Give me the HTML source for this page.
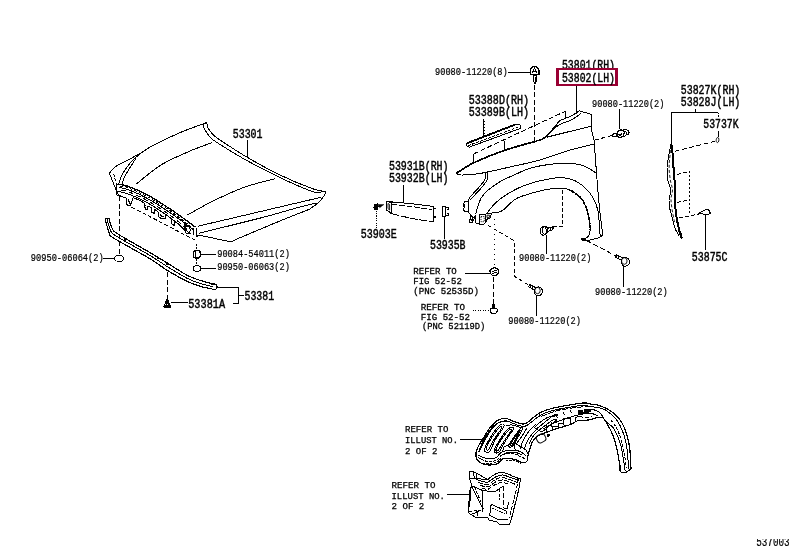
<!DOCTYPE html>
<html><head><meta charset="utf-8"><title>537003</title>
<style>
html,body{margin:0;padding:0;background:#fff;}
body{width:796px;height:549px;overflow:hidden;}
svg{display:block;will-change:transform;}
text{font-family:"Liberation Mono","DejaVu Sans Mono",monospace;fill:#000;stroke:#000;stroke-width:0.45px;}
text.s{stroke-width:0.22px;}
text.r{stroke-width:0.3px;}
text.b{stroke-width:0.25px;}
path,line,ellipse,rect{stroke-linecap:butt;stroke-linejoin:round;shape-rendering:crispEdges;}
</style></head><body>
<svg width="796" height="549" viewBox="0 0 796 549">
<rect width="796" height="549" fill="#fff"/>
<text class="a" x="561.969" y="69.4" font-size="12.3611" textLength="53.0612" lengthAdjust="spacingAndGlyphs">53801(RH)</text>
<rect x="556" y="68" width="62" height="18" fill="#990033"/>
<rect x="559" y="70" width="56" height="14" fill="#fff"/>
<text class="a" x="561.969" y="82.3" font-size="12.3611" textLength="53.0612" lengthAdjust="spacingAndGlyphs">53802(LH)</text>
<text class="a" x="232.764" y="138.3" font-size="12.3611" textLength="29.7718" lengthAdjust="spacingAndGlyphs">53301</text>
<text class="s" x="30.8318" y="261.2" font-size="10.8333" textLength="72.8365" lengthAdjust="spacingAndGlyphs">90950-06064(2)</text>
<text class="s" x="217.233" y="256.6" font-size="10.8333" textLength="72.6339" lengthAdjust="spacingAndGlyphs">90084-54011(2)</text>
<text class="s" x="217.233" y="270.2" font-size="10.8333" textLength="72.6339" lengthAdjust="spacingAndGlyphs">90950-06063(2)</text>
<text class="a" x="188.248" y="308" font-size="12.3611" textLength="36.8041" lengthAdjust="spacingAndGlyphs">53381A</text>
<text class="a" x="244.466" y="299.8" font-size="12.3611" textLength="29.668" lengthAdjust="spacingAndGlyphs">53381</text>
<text class="s" x="435.032" y="75.2" font-size="10.8333" textLength="72.7352" lengthAdjust="spacingAndGlyphs">90080-11220(8)</text>
<text class="a" x="468.757" y="104" font-size="12.3611" textLength="60.2851" lengthAdjust="spacingAndGlyphs">53388D(RH)</text>
<text class="a" x="468.757" y="116.3" font-size="12.3611" textLength="60.2851" lengthAdjust="spacingAndGlyphs">53389B(LH)</text>
<text class="a" x="388.964" y="170.3" font-size="12.3611" textLength="59.5723" lengthAdjust="spacingAndGlyphs">53931B(RH)</text>
<text class="a" x="388.964" y="181.6" font-size="12.3611" textLength="59.5723" lengthAdjust="spacingAndGlyphs">53932B(LH)</text>
<text class="a" x="360.759" y="238.3" font-size="12.3611" textLength="36.0825" lengthAdjust="spacingAndGlyphs">53903E</text>
<text class="a" x="429.966" y="249" font-size="12.3611" textLength="35.567" lengthAdjust="spacingAndGlyphs">53935B</text>
<text class="s" x="592.034" y="106.6" font-size="10.8333" textLength="72.4313" lengthAdjust="spacingAndGlyphs">90080-11220(2)</text>
<text class="a" x="680.764" y="93.7" font-size="12.3611" textLength="59.5723" lengthAdjust="spacingAndGlyphs">53827K(RH)</text>
<text class="a" x="680.764" y="105.7" font-size="12.3611" textLength="59.5723" lengthAdjust="spacingAndGlyphs">53828J(LH)</text>
<text class="a" x="703.271" y="128.3" font-size="12.3611" textLength="35.2577" lengthAdjust="spacingAndGlyphs">53737K</text>
<text class="a" x="691.763" y="260.6" font-size="12.3611" textLength="35.7732" lengthAdjust="spacingAndGlyphs">53875C</text>
<text class="s" x="519.034" y="261" font-size="10.8333" textLength="72.4313" lengthAdjust="spacingAndGlyphs">90080-11220(2)</text>
<text class="s" x="508.333" y="324" font-size="10.8333" textLength="72.6339" lengthAdjust="spacingAndGlyphs">90080-11220(2)</text>
<text class="s" x="595.032" y="294.8" font-size="10.8333" textLength="72.7352" lengthAdjust="spacingAndGlyphs">90080-11220(2)</text>
<text class="r" x="413.311" y="274" font-size="9.72222" textLength="43.4783" lengthAdjust="spacingAndGlyphs">REFER TO</text>
<text class="r" x="413.315" y="284" font-size="9.72222" textLength="48.4694" lengthAdjust="spacingAndGlyphs">FIG 52-52</text>
<text class="r" x="413.307" y="293.7" font-size="9.72222" textLength="65.6853" lengthAdjust="spacingAndGlyphs">(PNC 52535D)</text>
<text class="r" x="420.803" y="310.4" font-size="9.72222" textLength="44.1944" lengthAdjust="spacingAndGlyphs">REFER TO</text>
<text class="r" x="420.808" y="319.7" font-size="9.72222" textLength="49.1837" lengthAdjust="spacingAndGlyphs">FIG 52-52</text>
<text class="r" x="422.026" y="329.2" font-size="9.72222" textLength="63.2487" lengthAdjust="spacingAndGlyphs">(PNC 52119D)</text>
<text class="b" x="405.011" y="432.2" font-size="8.61111" textLength="43.4783" lengthAdjust="spacingAndGlyphs">REFER TO</text>
<text class="b" x="405.023" y="442.8" font-size="8.61111" textLength="52.9532" lengthAdjust="spacingAndGlyphs">ILLUST NO.</text>
<text class="b" x="405.013" y="453.5" font-size="8.61111" textLength="32.4742" lengthAdjust="spacingAndGlyphs">2 OF 2</text>
<text class="b" x="391.505" y="487.8" font-size="8.61111" textLength="43.9898" lengthAdjust="spacingAndGlyphs">REFER TO</text>
<text class="b" x="391.519" y="498.5" font-size="8.61111" textLength="53.4623" lengthAdjust="spacingAndGlyphs">ILLUST NO.</text>
<text class="b" x="391.508" y="509" font-size="8.61111" textLength="32.7835" lengthAdjust="spacingAndGlyphs">2 OF 2</text>
<text class="s" x="756.199" y="545.7" font-size="11.9444" textLength="33.4021" lengthAdjust="spacingAndGlyphs">537003</text>
<rect x="750" y="530" width="46" height="8.8" fill="#fff"/>
<path d="M206.7 122.5 C201.98 124.30 187.52 129.38 178.40 133.30 C169.28 137.22 158.15 142.78 152.00 146.00 C145.85 149.22 145.50 150.27 141.50 152.60 C137.50 154.93 132.42 157.60 128.00 160.00 C123.58 162.40 118.10 164.78 115.00 167.00 C111.90 169.22 110.33 172.25 109.40 173.30" fill="none" stroke="#000" stroke-width="1"/>
<path d="M109.4 173.3 L116.3 190.3 L118.8 195.3" fill="none" stroke="#000" stroke-width="1"/>
<path d="M141.5 152.6 C140.08 153.83 135.32 157.70 133.00 160.00 C130.68 162.30 129.43 163.90 127.60 166.40 C125.77 168.90 123.47 172.07 122.00 175.00 C120.53 177.93 119.33 182.50 118.80 184.00" fill="none" stroke="#000" stroke-width="1"/>
<path d="M136.4 157.6 C135.33 159.27 131.90 164.53 130.00 167.60 C128.10 170.67 126.33 173.27 125.00 176.00 C123.67 178.73 122.50 182.67 122.00 184.00" fill="none" stroke="#000" stroke-width="1"/>
<path d="M113.8 174 L117 186.5" fill="none" stroke="#000" stroke-width="1" stroke-dasharray="3 1.5"/>
<path d="M206.7 122.5 C206.92 123.42 206.95 126.00 208.00 128.00 C209.05 130.00 211.00 132.50 213.00 134.50 C215.00 136.50 214.25 136.17 220.00 140.00 C225.75 143.83 237.50 151.67 247.50 157.50 C257.50 163.33 269.17 169.80 280.00 175.00 C290.83 180.20 304.78 185.90 312.50 188.70 C320.22 191.50 324.00 191.28 326.30 191.80" fill="none" stroke="#000" stroke-width="1"/>
<path d="M203 124.5 C203.33 125.42 203.83 127.92 205.00 130.00 C206.17 132.08 208.00 134.92 210.00 137.00 C212.00 139.08 211.17 138.75 217.00 142.50 C222.83 146.25 234.50 153.65 245.00 159.50 C255.50 165.35 269.17 172.40 280.00 177.60 C290.83 182.80 303.17 188.13 310.00 190.70 C316.83 193.27 319.17 192.62 321.00 193.00" fill="none" stroke="#000" stroke-width="1"/>
<path d="M203 124.5 L206.7 122.5" fill="none" stroke="#000" stroke-width="1"/>
<path d="M326.3 191.8 C325.87 192.55 325.08 194.43 323.70 196.30 C322.32 198.17 320.28 200.92 318.00 203.00 C315.72 205.08 311.33 207.83 310.00 208.80" fill="none" stroke="#000" stroke-width="1"/>
<path d="M212.5 142.5 C208.75 143.92 198.32 147.42 190.00 151.00 C181.68 154.58 169.60 160.08 162.60 164.00 C155.60 167.92 152.37 171.17 148.00 174.50 C143.63 177.83 138.33 182.42 136.40 184.00" fill="none" stroke="#000" stroke-width="1"/>
<path d="M275 178.8 C270.00 180.17 255.42 183.25 245.00 187.00 C234.58 190.75 222.08 196.63 212.50 201.30 C202.92 205.97 191.67 212.72 187.50 215.00" fill="none" stroke="#000" stroke-width="1"/>
<path d="M197.5 226.3 L321 197.3" fill="none" stroke="#000" stroke-width="1"/>
<path d="M198.8 233.3 C209.42 230.67 245.63 221.88 262.50 217.50 C279.37 213.12 290.92 209.42 300.00 207.00 C309.08 204.58 314.17 203.67 317.00 203.00" fill="none" stroke="#000" stroke-width="1"/>
<path d="M198.8 235 C201.50 235.58 209.80 237.45 215.00 238.50 C220.20 239.55 226.25 241.25 230.00 241.30 C233.75 241.35 230.00 241.85 237.50 238.80 C245.00 235.75 262.92 227.97 275.00 223.00 C287.08 218.03 304.17 211.33 310.00 209.00" fill="none" stroke="#000" stroke-width="1"/>
<path d="M118.2 184.4 C119.67 184.67 122.08 184.22 127.00 186.00 C131.92 187.78 140.07 190.97 147.70 195.10 C155.33 199.23 164.85 205.47 172.80 210.80 C180.75 216.13 191.63 224.38 195.40 227.10" fill="none" stroke="#000" stroke-width="1.3"/>
<path d="M118.8 187.6 C120.33 187.92 123.22 187.68 128.00 189.50 C132.78 191.32 140.17 194.42 147.50 198.50 C154.83 202.58 164.22 208.70 172.00 214.00 C179.78 219.30 190.50 227.58 194.20 230.30" fill="none" stroke="#000" stroke-width="1"/>
<path d="M117.5 191.3 C119.08 191.67 122.25 191.72 127.00 193.50 C131.75 195.28 138.83 198.00 146.00 202.00 C153.17 206.00 162.60 212.17 170.00 217.50 C177.40 222.83 187.00 231.25 190.40 234.00" fill="none" stroke="#000" stroke-width="1"/>
<path d="M116.9 185 L116.9 195 L118.2 195.1 L126.3 198.2" fill="none" stroke="#000" stroke-width="1"/>
<path d="M120 186.2 C121.33 186.47 123.40 186.03 128.00 187.80 C132.60 189.57 140.20 192.70 147.60 196.80 C155.00 200.90 164.83 207.12 172.40 212.40 C179.97 217.68 189.57 225.82 193.00 228.50" fill="none" stroke="#000" stroke-width="1" stroke-dasharray="3 2"/>
<path d="M121 190 C122.17 190.27 123.70 189.88 128.00 191.60 C132.30 193.32 139.63 196.27 146.80 200.30 C153.97 204.33 163.80 210.52 171.00 215.80 C178.20 221.08 186.83 229.30 190.00 232.00" fill="none" stroke="#000" stroke-width="1" stroke-dasharray="5 3"/>
<path d="M118.2 184.4 L116.9 185" fill="none" stroke="#000" stroke-width="1"/>
<path d="M126.3 198.2 L126.3 203.9 L128 205.4 L130.6 205 L133.2 197.6" fill="none" stroke="#000" stroke-width="1"/>
<path d="M128.5 199.5 L129.5 203.5 L131.5 203" fill="none" stroke="#000" stroke-width="1"/>
<path d="M133.2 197.6 L140 200.5 L144 203 L145.5 206.5" fill="none" stroke="#000" stroke-width="1"/>
<path d="M144 205.2 L146 209.8 L148 209.5 L147.5 205.8" fill="none" stroke="#000" stroke-width="1"/>
<path d="M147.5 205.8 L151.5 208 L151.5 212 L154.5 213.5 L155 209.5" fill="none" stroke="#000" stroke-width="1"/>
<path d="M155 209.5 L158.7 212.5" fill="none" stroke="#000" stroke-width="1"/>
<path d="M158.7 212.5 L159 216.8 L161 218.4 L165 218.8 L166 214.5" fill="none" stroke="#000" stroke-width="1"/>
<path d="M160.5 214 L161.5 217 L164 216.8" fill="none" stroke="#000" stroke-width="1"/>
<path d="M166 214.5 L171.5 219 L171.8 224 L174.5 225.7 L175 221.5" fill="none" stroke="#000" stroke-width="1"/>
<path d="M175 221.5 L181 226.5 L185 231 L186.5 234.5" fill="none" stroke="#000" stroke-width="1"/>
<ellipse cx="187.5" cy="229.8" rx="2.6" ry="3.6" fill="none" stroke="#000" stroke-width="1"/>
<ellipse cx="185.3" cy="224.3" rx="1.3" ry="1.3" fill="#000" stroke="#000" stroke-width="1"/>
<ellipse cx="185.5" cy="229.5" rx="1.2" ry="1.6" fill="#000" stroke="#000" stroke-width="1"/>
<path d="M193.3 228 L193 233 L194.5 235.5" fill="none" stroke="#000" stroke-width="1"/>
<path d="M196.7 227.8 L196.7 236.6 L198.8 235" fill="none" stroke="#000" stroke-width="1"/>
<path d="M131.4 207 L196.7 241" fill="none" stroke="#000" stroke-width="1" stroke-dasharray="4 2.2"/>
<line x1="119.5" y1="196" x2="119.5" y2="253.5" stroke="#000" stroke-width="1" stroke-dasharray="5 2.5"/>
<ellipse cx="119.2" cy="258.4" rx="4.5" ry="3.2" fill="none" stroke="#000" stroke-width="1"/>
<line x1="102.9" y1="258.4" x2="114.7" y2="258.4" stroke="#000" stroke-width="1"/>
<line x1="196.8" y1="243.5" x2="196.8" y2="250" stroke="#000" stroke-width="1" stroke-dasharray="2 1.5"/>
<rect x="193.5" y="250.6" width="6.6" height="7.4" rx="2" fill="#fff" stroke="#000" stroke-width="1.2"/>
<line x1="195.3" y1="251" x2="195.3" y2="257.5" stroke="#000" stroke-width="1"/>
<line x1="200.5" y1="254.3" x2="216.3" y2="254.3" stroke="#000" stroke-width="1"/>
<line x1="196.8" y1="258.5" x2="196.8" y2="264.5" stroke="#000" stroke-width="1" stroke-dasharray="2 1.5"/>
<ellipse cx="197.1" cy="268.5" rx="3.9" ry="2.9" fill="none" stroke="#000" stroke-width="1"/>
<line x1="201.5" y1="268" x2="216.3" y2="268" stroke="#000" stroke-width="1"/>
<path d="M105 218.8 C105.33 220.00 106.25 223.50 107.00 226.00 C107.75 228.50 108.37 231.77 109.50 233.80 C110.63 235.83 107.05 234.03 113.80 238.20 C120.55 242.37 141.03 253.40 150.00 258.80 C158.97 264.20 161.32 266.80 167.60 270.60 C173.88 274.40 182.25 278.98 187.70 281.60 C193.15 284.22 196.32 285.07 200.30 286.30 C204.28 287.53 209.72 288.55 211.60 289.00" fill="none" stroke="#000" stroke-width="1.2"/>
<path d="M108.8 218 C109.08 219.00 109.88 222.17 110.50 224.00 C111.12 225.83 111.33 227.37 112.50 229.00 C113.67 230.63 111.25 229.87 117.50 233.80 C123.75 237.73 141.65 247.70 150.00 252.60 C158.35 257.50 161.32 259.37 167.60 263.20 C173.88 267.03 181.83 272.60 187.70 275.60 C193.57 278.60 198.08 279.70 202.80 281.20 C207.52 282.70 213.80 284.03 216.00 284.60" fill="none" stroke="#000" stroke-width="1.2"/>
<path d="M106.8 218.5 C107.17 219.75 108.30 223.83 109.00 226.00 C109.70 228.17 109.83 229.83 111.00 231.50 C112.17 233.17 109.50 232.00 116.00 236.00 C122.50 240.00 141.40 250.37 150.00 255.50 C158.60 260.63 161.32 262.95 167.60 266.80 C173.88 270.65 182.05 275.77 187.70 278.60 C193.35 281.43 197.28 282.43 201.50 283.80 C205.72 285.17 211.08 286.30 213.00 286.80" fill="none" stroke="#000" stroke-width="1"/>
<path d="M105 218.8 L108.8 218" fill="none" stroke="#000" stroke-width="1"/>
<path d="M216 284.6 L217.3 287 L216 289 L211.6 289" fill="none" stroke="#000" stroke-width="1"/>
<path d="M211.5 285 L215 283.8" fill="none" stroke="#000" stroke-width="1"/>
<ellipse cx="125" cy="239.5" rx="0.9" ry="0.9" fill="#000" stroke="#000" stroke-width="1"/>
<ellipse cx="158" cy="258" rx="0.9" ry="0.9" fill="#000" stroke="#000" stroke-width="1"/>
<ellipse cx="167.4" cy="263.8" rx="1" ry="1" fill="#000" stroke="#000" stroke-width="1"/>
<line x1="167.2" y1="272" x2="167.2" y2="297.8" stroke="#000" stroke-width="1" stroke-dasharray="5 2.5"/>
<path d="M167.2 298.4 L163.8 307 L170.7 307 Z" fill="#fff" stroke="#000" stroke-width="1.1"/>
<path d="M167.2 298.4 L166 307" fill="none" stroke="#000" stroke-width="1"/>
<path d="M167.2 298.4 L168.6 307" fill="none" stroke="#000" stroke-width="1"/>
<line x1="164.5" y1="303.5" x2="170" y2="303.5" stroke="#000" stroke-width="1"/>
<line x1="165.3" y1="301" x2="169" y2="301" stroke="#000" stroke-width="1"/>
<line x1="164" y1="305.5" x2="170.5" y2="305.5" stroke="#000" stroke-width="1"/>
<line x1="171" y1="302.8" x2="187.7" y2="302.8" stroke="#000" stroke-width="1"/>
<path d="M217.3 287.5 L238.8 287.5 L238.8 303 L232.5 303" fill="none" stroke="#000" stroke-width="1"/>
<line x1="238.8" y1="295.5" x2="243.8" y2="295.5" stroke="#000" stroke-width="1"/>
<line x1="247.5" y1="140" x2="247.5" y2="157.5" stroke="#000" stroke-width="1"/>
<path d="M456 173.5 C458.97 171.72 465.63 166.68 473.80 162.80 C481.97 158.92 494.73 153.77 505.00 150.20 C515.27 146.63 530.33 142.87 535.40 141.40" fill="none" stroke="#000" stroke-width="1.7"/>
<path d="M535.4 141.4 C536.33 141.10 539.33 140.33 541.00 139.60 C542.67 138.87 543.98 138.07 545.40 137.00 C546.82 135.93 548.23 134.55 549.50 133.20 C550.77 131.85 551.83 130.35 553.00 128.90 C554.17 127.45 555.92 125.23 556.50 124.50" fill="none" stroke="#000" stroke-width="1.4"/>
<path d="M556.5 124.5 C557.08 123.87 558.58 121.68 560.00 120.70 C561.42 119.72 563.00 119.47 565.00 118.60 C567.00 117.73 569.63 116.78 572.00 115.50 C574.37 114.22 578.00 111.67 579.20 110.90" fill="none" stroke="#000" stroke-width="1"/>
<path d="M579.2 110.9 L591.4 114.3" fill="none" stroke="#000" stroke-width="1"/>
<path d="M543.5 139 C544.42 138.08 546.92 135.50 549.00 133.50 C551.08 131.50 553.83 128.67 556.00 127.00 C558.17 125.33 559.67 124.57 562.00 123.50 C564.33 122.43 567.67 121.68 570.00 120.60 C572.33 119.52 574.17 118.20 576.00 117.00 C577.83 115.80 580.17 114.00 581.00 113.40" fill="none" stroke="#000" stroke-width="1"/>
<path d="M591.4 114.3 L591.4 129" fill="none" stroke="#000" stroke-width="1"/>
<path d="M591.4 129 C591.60 129.92 592.17 132.73 592.60 134.50 C593.03 136.27 593.63 137.02 594.00 139.60 C594.37 142.18 594.38 144.47 594.80 150.00 C595.22 155.53 595.92 165.22 596.50 172.80 C597.08 180.38 597.70 188.67 598.30 195.50 C598.90 202.33 599.50 208.33 600.10 213.80 C600.70 219.27 601.50 224.82 601.90 228.30 C602.30 231.78 602.95 233.15 602.50 234.70 C602.05 236.25 601.57 236.65 599.20 237.60 C596.83 238.55 590.12 239.93 588.30 240.40" fill="none" stroke="#000" stroke-width="1"/>
<path d="M546.7 137.2 C548.92 136.65 556.12 134.87 560.00 133.90 C563.88 132.93 564.92 132.65 570.00 131.40 C575.08 130.15 587.08 127.23 590.50 126.40" fill="none" stroke="#000" stroke-width="1"/>
<path d="M456 173.5 C456.83 173.75 457.82 174.88 461.00 175.00 C464.18 175.12 470.90 174.65 475.10 174.20 C479.30 173.75 480.38 173.50 486.20 172.30 C492.02 171.10 501.03 169.05 510.00 167.00 C518.97 164.95 530.00 162.82 540.00 160.00 C550.00 157.18 561.05 152.73 570.00 150.10 C578.95 147.47 589.75 145.18 593.70 144.20" fill="none" stroke="#000" stroke-width="1"/>
<path d="M594.6 140.1 L611.9 135.5" fill="none" stroke="#000" stroke-width="1" stroke-dasharray="4 3"/>
<path d="M473.8 153.8 L566.3 110.8" fill="none" stroke="#000" stroke-width="1" stroke-dasharray="5 2.5"/>
<line x1="473.8" y1="154" x2="473.8" y2="162.5" stroke="#000" stroke-width="1"/>
<line x1="504.6" y1="141" x2="504.6" y2="150" stroke="#000" stroke-width="1"/>
<line x1="565.8" y1="110.8" x2="565.8" y2="118.5" stroke="#000" stroke-width="1"/>
<path d="M475.6 214.2 C475.93 213.03 476.68 209.87 477.60 207.20 C478.52 204.53 479.33 201.05 481.10 198.20 C482.87 195.35 485.02 192.87 488.20 190.10 C491.38 187.33 495.68 184.20 500.20 181.60 C504.72 179.00 510.33 176.73 515.30 174.50 C520.27 172.27 524.52 169.85 530.00 168.20 C535.48 166.55 542.13 165.45 548.20 164.60 C554.27 163.75 560.93 163.05 566.40 163.10 C571.87 163.15 577.05 163.90 581.00 164.90 C584.95 165.90 587.67 167.78 590.10 169.10 C592.53 170.42 594.68 172.18 595.60 172.80" fill="none" stroke="#000" stroke-width="1"/>
<path d="M486.2 214.2 C487.70 212.37 491.68 206.55 495.20 203.20 C498.72 199.85 502.27 197.12 507.30 194.10 C512.33 191.08 518.58 187.60 525.40 185.10 C532.22 182.60 541.97 180.33 548.20 179.10 C554.43 177.87 558.25 177.38 562.80 177.70 C567.35 178.02 571.55 179.08 575.50 181.00 C579.45 182.92 583.45 186.17 586.50 189.20 C589.55 192.23 591.92 195.72 593.80 199.20 C595.68 202.68 596.90 206.15 597.80 210.10 C598.70 214.05 598.82 218.65 599.20 222.90 C599.58 227.15 599.95 233.48 600.10 235.60" fill="none" stroke="#000" stroke-width="1"/>
<path d="M490.2 213.2 C492.20 212.78 498.02 213.03 502.20 210.70 C506.38 208.37 510.67 202.03 515.30 199.20 C519.93 196.37 524.52 195.37 530.00 193.70 C535.48 192.03 542.73 190.10 548.20 189.20 C553.67 188.30 558.85 188.00 562.80 188.30 C566.75 188.60 568.87 189.33 571.90 191.00 C574.93 192.67 578.57 195.42 581.00 198.30 C583.43 201.18 585.13 204.82 586.50 208.30 C587.87 211.78 588.60 215.57 589.20 219.20 C589.80 222.83 590.25 227.22 590.10 230.10 C589.95 232.98 589.52 234.92 588.30 236.50 C587.08 238.08 583.72 239.08 582.80 239.60" fill="none" stroke="#000" stroke-width="1"/>
<path d="M571.9 191 C573.42 192.22 578.57 195.42 581.00 198.30 C583.43 201.18 585.13 204.82 586.50 208.30 C587.87 211.78 588.60 215.57 589.20 219.20 C589.80 222.83 589.95 228.28 590.10 230.10" fill="none" stroke="#000" stroke-width="1.8" stroke-dasharray="3 1"/>
<path d="M581 238 L587.5 240.5 L582.5 240.8 Z" fill="#000" stroke="#000" stroke-width="1"/>
<path d="M485.2 172.5 C485.20 173.58 486.22 176.57 485.20 179.00 C484.18 181.43 481.62 184.07 479.10 187.10 C476.58 190.13 471.85 194.77 470.10 197.20 C468.35 199.63 468.85 200.95 468.60 201.70" fill="none" stroke="#000" stroke-width="1"/>
<path d="M487.4 172.5 C487.40 173.68 488.45 177.00 487.40 179.60 C486.35 182.20 483.67 185.03 481.10 188.10 C478.53 191.17 473.75 195.98 472.00 198.00 C470.25 200.02 470.83 199.83 470.60 200.20" fill="none" stroke="#000" stroke-width="1"/>
<path d="M468.2 201.6 L464.6 201.8 L463.4 204 L464.6 204.6 L463.4 206.5 L464.6 207.2 L463.4 209.2 L464.6 211.5 L468.2 211.7" fill="none" stroke="#000" stroke-width="1.1"/>
<line x1="468.2" y1="201.6" x2="468.2" y2="211.7" stroke="#000" stroke-width="1"/>
<path d="M468.2 211.7 L471.3 215.7" fill="none" stroke="#000" stroke-width="1"/>
<path d="M471.3 215.7 L469.1 222.3 L472.5 222.7 L475.2 215.7 L475.2 222.7 L478.7 224" fill="none" stroke="#000" stroke-width="1"/>
<path d="M471.3 215.7 L472.8 217.5 L471.5 221" fill="none" stroke="#000" stroke-width="1.6"/>
<path d="M479.2 214.3 L479.2 224.5 L483.5 224.5 L485.8 222 L485.8 214.3 Z" fill="none" stroke="#000" stroke-width="1.2"/>
<path d="M485.8 214 L491.1 213.9 L490.6 217.9 L487.5 218.6 L485.8 222" fill="none" stroke="#000" stroke-width="1"/>
<rect x="481" y="216.5" width="3.2" height="5.2" fill="none" stroke="#000" stroke-width="0.9" stroke-dasharray="1.2 1"/>
<rect x="487" y="215.2" width="2.4" height="2.4" fill="none" stroke="#000" stroke-width="0.9"/>
<line x1="576.4" y1="86" x2="576.4" y2="113.5" stroke="#000" stroke-width="1"/>
<line x1="507.5" y1="72.3" x2="530.4" y2="72.3" stroke="#000" stroke-width="1"/>
<path d="M531.5 67.3 L534.5 66.2 L537.5 67.3 L538.9 70.4 L538.9 74.7 L530.4 74.7 L530.4 70.4 Z" fill="#fff" stroke="#000" stroke-width="1.3"/>
<path d="M532.3 73 L534.5 68 L536.7 73" fill="none" stroke="#000" stroke-width="1.1"/>
<line x1="532.5" y1="71.6" x2="536.5" y2="71.6" stroke="#000" stroke-width="1"/>
<path d="M533.2 75.4 L536.8 75.4 L536.8 81 L535 83.6 L533.2 81 Z" fill="#fff" stroke="#000" stroke-width="1.1"/>
<line x1="535" y1="77" x2="535" y2="81.5" stroke="#000" stroke-width="1"/>
<line x1="534.5" y1="84.8" x2="534.5" y2="141.3" stroke="#000" stroke-width="1" stroke-dasharray="5 2.5"/>
<path d="M466.9 143.3 L515.3 124.5" fill="none" stroke="#000" stroke-width="1.9"/>
<path d="M515.3 124.3 L520.3 125.1 L520.9 128.2 L469.4 147.1 L467 146 L466.9 143.3" fill="none" stroke="#000" stroke-width="1"/>
<path d="M468.3 145.6 L519.5 126.6" fill="none" stroke="#000" stroke-width="1" stroke-dasharray="3 1.2"/>
<line x1="483.3" y1="118.8" x2="483.3" y2="136.6" stroke="#000" stroke-width="1"/>
<line x1="483.3" y1="121" x2="484.6" y2="121" stroke="#000" stroke-width="1"/>
<line x1="483.3" y1="124" x2="484.6" y2="124" stroke="#000" stroke-width="1"/>
<line x1="483.3" y1="127" x2="484.6" y2="127" stroke="#000" stroke-width="1"/>
<line x1="483.3" y1="130" x2="484.6" y2="130" stroke="#000" stroke-width="1"/>
<line x1="483.3" y1="133" x2="484.6" y2="133" stroke="#000" stroke-width="1"/>
<line x1="619.6" y1="108.8" x2="619.6" y2="129.3" stroke="#000" stroke-width="1"/>
<path d="M612.2 134.2 L616.8 133.5 L616.8 136.6 L612.2 136.8 Z" fill="none" stroke="#000" stroke-width="1.2"/>
<path d="M617 133.4 L618.8 130.6 L622.6 130.2 L624.6 132.4 L622.6 136.8 L619.6 137.7 L617 136.2 Z" fill="none" stroke="#000" stroke-width="1.2"/>
<path d="M618.5 133.8 L620 135.5 L622.2 133.3" fill="none" stroke="#000" stroke-width="1"/>
<path d="M619.6 129.3 L622 129.3" fill="none" stroke="#000" stroke-width="1.1"/>
<path d="M623.2 129.3 C623.75 129.35 625.60 129.23 626.50 129.60 C627.40 129.97 628.22 130.80 628.60 131.50 C628.98 132.20 629.02 133.18 628.80 133.80 C628.58 134.42 627.55 134.97 627.30 135.20" fill="none" stroke="#000" stroke-width="1.2"/>
<path d="M625.3 131 C625.47 131.33 626.25 132.23 626.30 133.00 C626.35 133.77 626.07 134.93 625.60 135.60 C625.13 136.27 623.85 136.77 623.50 137.00" fill="none" stroke="#000" stroke-width="1"/>
<path d="M562.5 190 L562.5 226.3 L553.8 226.3" fill="none" stroke="#000" stroke-width="1" stroke-dasharray="4 2"/>
<ellipse cx="543.3" cy="230.8" rx="3" ry="4.4" fill="none" stroke="#000" stroke-width="1.1"/>
<ellipse cx="545" cy="230.3" rx="2.6" ry="4" fill="none" stroke="#000" stroke-width="1"/>
<path d="M547.5 228.3 L554 226.5" fill="none" stroke="#000" stroke-width="1"/>
<path d="M547.8 231.5 L553.5 229.5" fill="none" stroke="#000" stroke-width="1"/>
<path d="M554 226.5 L553.5 229.5" fill="none" stroke="#000" stroke-width="1"/>
<line x1="550" y1="227.5" x2="550.5" y2="230.5" stroke="#000" stroke-width="1"/>
<line x1="552" y1="227" x2="552.5" y2="230" stroke="#000" stroke-width="1"/>
<line x1="546.3" y1="235.2" x2="546.3" y2="253.6" stroke="#000" stroke-width="1"/>
<path d="M587 240.7 L615.3 255.6" fill="none" stroke="#000" stroke-width="1" stroke-dasharray="5 2.5"/>
<ellipse cx="625.3" cy="261.8" rx="4" ry="4.4" fill="none" stroke="#000" stroke-width="1.1"/>
<ellipse cx="624.3" cy="261" rx="2.8" ry="3.3" fill="none" stroke="#000" stroke-width="0.9"/>
<path d="M614.8 256.6 L621 260.2" fill="none" stroke="#000" stroke-width="1"/>
<path d="M616.3 254.6 L622.5 258" fill="none" stroke="#000" stroke-width="1"/>
<path d="M614.8 256.6 L616.3 254.6" fill="none" stroke="#000" stroke-width="1"/>
<line x1="617" y1="255.2" x2="616" y2="257.3" stroke="#000" stroke-width="1"/>
<line x1="619" y1="256.3" x2="618" y2="258.4" stroke="#000" stroke-width="1"/>
<line x1="623.3" y1="266.4" x2="623.3" y2="287" stroke="#000" stroke-width="1"/>
<path d="M488 225.3 L514.5 241 L514.5 276.3 L530 286" fill="none" stroke="#000" stroke-width="1" stroke-dasharray="4 2.5"/>
<ellipse cx="538.3" cy="291.3" rx="4" ry="4.4" fill="none" stroke="#000" stroke-width="1.1"/>
<ellipse cx="537.5" cy="290.5" rx="2.7" ry="3.2" fill="none" stroke="#000" stroke-width="0.9"/>
<path d="M528.5 286.8 L534.5 290" fill="none" stroke="#000" stroke-width="1"/>
<path d="M530 284.6 L536 287.8" fill="none" stroke="#000" stroke-width="1"/>
<path d="M528.5 286.8 L530 284.6" fill="none" stroke="#000" stroke-width="1"/>
<line x1="530.7" y1="285.3" x2="529.8" y2="287.4" stroke="#000" stroke-width="1"/>
<line x1="532.7" y1="286.4" x2="531.8" y2="288.5" stroke="#000" stroke-width="1"/>
<line x1="536.5" y1="295.8" x2="536.5" y2="316.3" stroke="#000" stroke-width="1"/>
<line x1="494.1" y1="218.7" x2="494.1" y2="266" stroke="#000" stroke-width="1" stroke-dasharray="1.5 3.5"/>
<line x1="464.5" y1="273.2" x2="489.5" y2="273.2" stroke="#000" stroke-width="1"/>
<path d="M490 270.5 C490.25 269.75 491.00 268.92 492.00 268.50 C493.00 268.08 494.95 267.75 496.00 268.00 C497.05 268.25 497.97 269.08 498.30 270.00 C498.63 270.92 498.47 272.58 498.00 273.50 C497.53 274.42 496.50 275.25 495.50 275.50 C494.50 275.75 492.83 275.42 492.00 275.00 C491.17 274.58 490.83 273.75 490.50 273.00 C490.17 272.25 489.75 271.25 490.00 270.50 Z" fill="none" stroke="#000" stroke-width="1.2"/>
<path d="M492 271.5 L496.5 270.2" fill="none" stroke="#000" stroke-width="1"/>
<path d="M492.3 273.4 L497 272" fill="none" stroke="#000" stroke-width="1"/>
<line x1="493.8" y1="276.5" x2="493.8" y2="304" stroke="#000" stroke-width="1" stroke-dasharray="5 2.5"/>
<rect x="492.3" y="304.3" width="3" height="4" fill="#000"/>
<path d="M490.8 308.3 L496.8 308.3 L497.6 311 L495.5 313.6 L492 313.6 L490 311 Z" fill="none" stroke="#000" stroke-width="1.1"/>
<line x1="472.5" y1="310.8" x2="489.8" y2="310.8" stroke="#000" stroke-width="1" stroke-dasharray="1 1.5"/>
<line x1="403.7" y1="185" x2="403.7" y2="203.4" stroke="#000" stroke-width="1"/>
<path d="M386.3 201.2 L391.6 202.6 L391.6 213.7 L386.3 209.7 Z" fill="none" stroke="#000" stroke-width="1.2"/>
<path d="M388 203.5 L389.6 204.5 L389.6 210 L388 208.6 Z" fill="none" stroke="#000" stroke-width="0.9"/>
<path d="M386.3 201.2 L393.3 202" fill="none" stroke="#000" stroke-width="1"/>
<path d="M391.6 202 C395.00 202.30 405.13 203.08 412.00 203.80 C418.87 204.52 429.33 205.88 432.80 206.30" fill="none" stroke="#000" stroke-width="1"/>
<path d="M391.6 204.2 C395.00 204.60 405.32 205.68 412.00 206.60 C418.68 207.52 428.42 209.18 431.70 209.70" fill="none" stroke="#000" stroke-width="1" stroke-dasharray="6 1.5"/>
<path d="M391.6 213.7 C394.67 214.42 403.60 216.68 410.00 218.00 C416.40 219.32 426.67 221.00 430.00 221.60" fill="none" stroke="#000" stroke-width="1" stroke-dasharray="8 1.5"/>
<line x1="430" y1="221.6" x2="433.4" y2="221.6" stroke="#000" stroke-width="1"/>
<line x1="433.4" y1="206.3" x2="433.4" y2="221.6" stroke="#000" stroke-width="1"/>
<rect x="433.4" y="216" width="2.3" height="1.8" fill="#000"/>
<line x1="433.4" y1="208.5" x2="435.5" y2="208.8" stroke="#000" stroke-width="1"/>
<path d="M374.5 204.8 L377.5 204 L378.2 206.5 L377.2 210 L375 209.8 L373.8 207.5 Z" fill="#000" stroke="#000" stroke-width="1"/>
<path d="M378 204.6 L383.7 204.6 L379.7 207.6 Z" fill="#000" stroke="#000" stroke-width="0.8"/>
<line x1="376" y1="210.5" x2="376" y2="228" stroke="#000" stroke-width="1" stroke-dasharray="1.2 1.2"/>
<path d="M445.5 206.5 L442.8 206.5 L442.8 216.8 L445.5 216.8" fill="none" stroke="#000" stroke-width="1.2"/>
<path d="M445.5 206.5 L445.5 216.8" fill="none" stroke="#000" stroke-width="1"/>
<path d="M445.5 207 L448.2 207.3 L448.5 209.3 L447 209.8" fill="none" stroke="#000" stroke-width="1"/>
<path d="M447 213.2 L448.5 213.6 L448.2 215.6 L445.5 216.2" fill="none" stroke="#000" stroke-width="1"/>
<line x1="444.5" y1="217" x2="444.5" y2="239" stroke="#000" stroke-width="1"/>
<line x1="695.5" y1="108.8" x2="695.5" y2="112.5" stroke="#000" stroke-width="1"/>
<path d="M671.3 143.8 L671.3 112.5 L718.3 112.5" fill="none" stroke="#000" stroke-width="1"/>
<line x1="718.3" y1="112.5" x2="718.3" y2="118" stroke="#000" stroke-width="1" stroke-dasharray="1.5 1"/>
<line x1="718.3" y1="131.3" x2="718.3" y2="137" stroke="#000" stroke-width="1"/>
<path d="M716.3 139.3 C716.45 138.65 716.82 137.82 717.20 137.60 C717.58 137.38 718.33 137.43 718.60 138.00 C718.87 138.57 718.98 140.23 718.80 141.00 C718.62 141.77 717.92 142.52 717.50 142.60 C717.08 142.68 716.50 142.05 716.30 141.50 C716.10 140.95 716.15 139.95 716.30 139.30 Z" fill="none" stroke="#000" stroke-width="0.9"/>
<path d="M674.5 151.3 L714.5 141.3" fill="none" stroke="#000" stroke-width="1" stroke-dasharray="5 2.5"/>
<path d="M671.3 143.8 C671.47 144.83 671.97 146.47 672.30 150.00 C672.63 153.53 672.93 160.00 673.30 165.00 C673.67 170.00 674.18 174.17 674.50 180.00 C674.82 185.83 674.98 194.58 675.20 200.00 C675.42 205.42 675.33 208.33 675.80 212.50 C676.27 216.67 677.17 221.03 678.00 225.00 C678.83 228.97 680.08 234.13 680.80 236.30 C681.52 238.47 682.05 237.72 682.30 238.00" fill="none" stroke="#000" stroke-width="2"/>
<path d="M671.3 144.5 C671.00 145.63 670.05 148.72 669.50 151.30 C668.95 153.88 668.42 157.30 668.00 160.00 C667.58 162.70 667.03 164.17 667.00 167.50 C666.97 170.83 667.17 176.25 667.80 180.00 C668.43 183.75 670.60 186.67 670.80 190.00 C671.00 193.33 669.18 197.00 669.00 200.00 C668.82 203.00 669.28 205.50 669.70 208.00 C670.12 210.50 670.87 212.50 671.50 215.00 C672.13 217.50 672.78 220.50 673.50 223.00 C674.22 225.50 674.80 227.75 675.80 230.00 C676.80 232.25 678.88 235.42 679.50 236.50" fill="none" stroke="#000" stroke-width="1"/>
<path d="M670.8 150 C670.58 151.67 669.77 156.67 669.50 160.00 C669.23 163.33 669.03 166.50 669.20 170.00 C669.37 173.50 669.95 177.67 670.50 181.00 C671.05 184.33 672.42 187.00 672.50 190.00 C672.58 193.00 671.05 195.67 671.00 199.00 C670.95 202.33 671.62 206.17 672.20 210.00 C672.78 213.83 674.12 220.00 674.50 222.00" fill="none" stroke="#000" stroke-width="0.9" stroke-dasharray="3 2"/>
<path d="M678 230 L682.3 238 L680.5 231.5 Z" fill="#000" stroke="#000" stroke-width="1"/>
<path d="M677 174.5 L689.5 171.3" fill="none" stroke="#000" stroke-width="1" stroke-dasharray="4 2"/>
<path d="M689.5 171.3 L689.5 213.8" fill="none" stroke="#000" stroke-width="1" stroke-dasharray="1.5 2.5"/>
<path d="M677 202.5 L688.3 200" fill="none" stroke="#000" stroke-width="1" stroke-dasharray="4 2"/>
<path d="M679.5 218 L699.5 213.8" fill="none" stroke="#000" stroke-width="1" stroke-dasharray="4 2"/>
<path d="M699.5 213 L706 209.3 L709.5 210.2 L710.2 213.5 L706 215 Z" fill="none" stroke="#000" stroke-width="1.1"/>
<line x1="705.3" y1="215" x2="705.3" y2="250.3" stroke="#000" stroke-width="1"/>
<line x1="459.8" y1="439" x2="482.3" y2="439" stroke="#000" stroke-width="1"/>
<line x1="447" y1="494.5" x2="469.5" y2="494.5" stroke="#000" stroke-width="1"/>
<path d="M476 451.7 C476.42 450.75 477.50 447.90 478.50 446.00 C479.50 444.10 480.15 443.27 482.00 440.30 C483.85 437.33 487.07 431.47 489.60 428.20 C492.13 424.93 494.55 422.33 497.20 420.70 C499.85 419.07 502.73 418.28 505.50 418.40 C508.27 418.52 511.15 420.52 513.80 421.40 C516.45 422.28 519.25 423.43 521.40 423.70 C523.55 423.97 523.68 424.78 526.70 423.00 C529.72 421.22 534.85 415.53 539.50 413.00 C544.15 410.47 548.55 409.30 554.60 407.80 C560.65 406.30 571.08 404.75 575.80 404.00 C580.52 403.25 578.95 403.03 582.90 403.30 C586.85 403.57 594.72 404.22 599.50 405.60 C604.28 406.98 608.07 409.08 611.60 411.60 C615.13 414.12 618.18 416.92 620.70 420.70 C623.22 424.48 625.20 429.77 626.70 434.30 C628.20 438.83 628.98 442.12 629.70 447.90 C630.42 453.68 630.78 465.48 631.00 469.00" fill="none" stroke="#000" stroke-width="1.2"/>
<path d="M476 451.7 C476.13 452.95 475.30 457.07 476.80 459.20 C478.30 461.33 481.60 463.73 485.00 464.50 C488.40 465.27 494.17 464.80 497.20 463.80 C500.23 462.80 500.43 459.27 503.20 458.50 C505.97 457.73 510.77 458.58 513.80 459.20 C516.83 459.82 519.25 461.82 521.40 462.20 C523.55 462.58 525.57 462.75 526.70 461.50 C527.83 460.25 527.35 457.75 528.20 454.70 C529.05 451.65 530.45 446.15 531.80 443.20 C533.15 440.25 533.67 438.88 536.30 437.00 C538.93 435.12 543.83 433.40 547.60 431.90 C551.37 430.40 555.13 429.22 558.90 428.00 C562.67 426.78 567.00 425.83 570.20 424.60 C573.40 423.37 575.08 421.37 578.10 420.60 C581.12 419.83 584.90 420.57 588.30 420.00 C591.70 419.43 596.05 417.53 598.50 417.20 C600.95 416.87 601.57 416.92 603.00 418.00 C604.43 419.08 605.42 420.73 607.10 423.70 C608.78 426.67 611.47 431.52 613.10 435.80 C614.73 440.08 615.88 445.12 616.90 449.40 C617.92 453.68 618.70 457.97 619.20 461.50 C619.70 465.03 619.02 468.72 619.90 470.60 C620.78 472.48 622.65 473.07 624.50 472.80 C626.35 472.53 629.92 469.63 631.00 469.00" fill="none" stroke="#000" stroke-width="1.2"/>
<path d="M478.5 452.5 C479.50 450.58 482.33 444.83 484.50 441.00 C486.67 437.17 489.17 432.53 491.50 429.50 C493.83 426.47 496.17 424.25 498.50 422.80 C500.83 421.35 503.00 420.67 505.50 420.80 C508.00 420.93 510.92 422.73 513.50 423.60 C516.08 424.47 518.67 425.77 521.00 426.00 C523.33 426.23 524.25 426.80 527.50 425.00 C530.75 423.20 535.92 417.70 540.50 415.20 C545.08 412.70 549.08 411.50 555.00 410.00 C560.92 408.50 571.33 406.95 576.00 406.20 C580.67 405.45 579.33 405.25 583.00 405.50 C586.67 405.75 594.23 406.93 598.00 407.70 C601.77 408.47 602.58 408.18 605.60 410.10 C608.62 412.02 613.08 415.17 616.10 419.20 C619.12 423.23 621.80 428.77 623.70 434.30 C625.60 439.83 626.75 446.62 627.50 452.40 C628.25 458.18 628.08 466.23 628.20 469.00" fill="none" stroke="#000" stroke-width="1"/>
<path d="M604 419.2 C604.83 420.00 607.23 422.23 609.00 424.00 C610.77 425.77 612.65 426.32 614.60 429.80 C616.55 433.28 619.18 439.62 620.70 444.90 C622.22 450.18 622.95 457.10 623.70 461.50 C624.45 465.90 624.95 469.67 625.20 471.30" fill="none" stroke="#000" stroke-width="1"/>
<path d="M611 420 C612.00 421.50 615.25 425.50 617.00 429.00 C618.75 432.50 620.25 436.67 621.50 441.00 C622.75 445.33 623.70 450.50 624.50 455.00 C625.30 459.50 626.00 465.83 626.30 468.00" fill="none" stroke="#000" stroke-width="1" stroke-dasharray="3 1.5"/>
<path d="M477.6 454.7 C479.10 455.33 483.58 458.00 486.60 458.50 C489.62 459.00 493.05 458.83 495.70 457.70 C498.35 456.57 499.23 452.95 502.50 451.70 C505.77 450.45 512.15 450.08 515.30 450.20 C518.45 450.32 519.63 451.52 521.40 452.40 C523.17 453.28 525.15 454.98 525.90 455.50" fill="none" stroke="#000" stroke-width="1"/>
<path d="M478 457.3 C479.43 457.97 483.55 460.80 486.60 461.30 C489.65 461.80 493.57 461.43 496.30 460.30 C499.03 459.17 499.97 455.55 503.00 454.50 C506.03 453.45 511.50 453.58 514.50 454.00 C517.50 454.42 519.08 456.17 521.00 457.00 C522.92 457.83 525.17 458.67 526.00 459.00" fill="none" stroke="#000" stroke-width="1" stroke-dasharray="3 1"/>
<path d="M504 447 C505.63 446.40 511.22 443.57 513.80 443.40 C516.38 443.23 517.48 445.00 519.50 446.00 C521.52 447.00 524.83 448.83 525.90 449.40" fill="none" stroke="#000" stroke-width="1"/>
<line x1="525.9" y1="449.4" x2="528.2" y2="454.7" stroke="#000" stroke-width="1"/>
<path d="M484.4 450.2 C484.40 448.05 487.22 442.83 489.60 438.80 C491.98 434.77 496.30 428.38 498.70 426.00 C501.10 423.62 503.37 424.00 504.00 424.50 C504.63 425.00 504.02 426.37 502.50 429.00 C500.98 431.63 497.05 436.52 494.90 440.30 C492.75 444.08 491.35 450.05 489.60 451.70 C487.85 453.35 484.40 452.35 484.40 450.20 Z" fill="none" stroke="#000" stroke-width="1"/>
<path d="M494.2 450.9 C494.33 448.88 497.23 443.95 499.50 440.30 C501.77 436.65 505.42 431.02 507.80 429.00 C510.18 426.98 513.43 427.32 513.80 428.20 C514.17 429.08 511.63 431.77 510.00 434.30 C508.37 436.83 505.88 440.38 504.00 443.40 C502.12 446.42 500.33 451.15 498.70 452.40 C497.07 453.65 494.07 452.92 494.20 450.90 Z" fill="none" stroke="#000" stroke-width="1"/>
<path d="M508.5 445.6 C508.75 444.08 511.90 440.07 513.80 437.30 C515.70 434.53 518.38 430.63 519.90 429.00 C521.42 427.37 523.15 426.23 522.90 427.50 C522.65 428.77 520.17 433.45 518.40 436.60 C516.63 439.75 513.95 444.90 512.30 446.40 C510.65 447.90 508.25 447.12 508.50 445.60 Z" fill="none" stroke="#000" stroke-width="1"/>
<path d="M481 447 C482.00 445.00 484.50 438.83 487.00 435.00 C489.50 431.17 493.33 426.25 496.00 424.00 C498.67 421.75 501.83 421.92 503.00 421.50" fill="none" stroke="#000" stroke-width="1"/>
<path d="M516 444 C517.00 442.67 520.17 438.67 522.00 436.00 C523.83 433.33 526.17 429.33 527.00 428.00" fill="none" stroke="#000" stroke-width="1"/>
<path d="M486.3 448.5 C486.67 446.72 488.88 442.25 491.00 438.80 C493.12 435.35 497.17 429.80 499.00 427.80 C500.83 425.80 501.70 426.52 502.00 426.80 C502.30 427.08 502.22 427.25 500.80 429.50 C499.38 431.75 495.50 436.97 493.50 440.30 C491.50 443.63 490.00 448.13 488.80 449.50 C487.60 450.87 485.93 450.28 486.30 448.50 Z" fill="none" stroke="#000" stroke-width="1"/>
<path d="M496 449.5 C496.47 447.80 498.70 443.48 500.80 440.30 C502.90 437.12 506.82 432.12 508.60 430.40 C510.38 428.68 511.50 429.32 511.50 430.00 C511.50 430.68 510.08 432.27 508.60 434.50 C507.12 436.73 504.37 440.73 502.60 443.40 C500.83 446.07 499.10 449.48 498.00 450.50 C496.90 451.52 495.53 451.20 496.00 449.50 Z" fill="none" stroke="#000" stroke-width="1"/>
<path d="M510 444.8 C510.38 443.60 513.13 439.98 514.80 437.60 C516.47 435.22 519.67 430.60 520.00 430.50 C520.33 430.40 518.05 434.62 516.80 437.00 C515.55 439.38 513.63 443.50 512.50 444.80 C511.37 446.10 509.62 446.00 510.00 444.80 Z" fill="none" stroke="#000" stroke-width="1"/>
<path d="M479.5 449 C480.42 447.08 482.75 441.25 485.00 437.50 C487.25 433.75 490.50 429.08 493.00 426.50 C495.50 423.92 497.83 422.78 500.00 422.00 C502.17 421.22 505.00 421.83 506.00 421.80" fill="none" stroke="#000" stroke-width="1"/>
<path d="M506 425.5 C507.00 425.42 509.67 424.72 512.00 425.00 C514.33 425.28 517.67 426.95 520.00 427.20 C522.33 427.45 525.00 426.62 526.00 426.50" fill="none" stroke="#000" stroke-width="1"/>
<path d="M502.5 451.7 L504 447" fill="none" stroke="#000" stroke-width="1"/>
<path d="M515.3 450.2 L513.8 443.4" fill="none" stroke="#000" stroke-width="1"/>
<path d="M500 456 C501.17 455.47 504.50 453.42 507.00 452.80 C509.50 452.18 512.50 451.93 515.00 452.30 C517.50 452.67 520.83 454.55 522.00 455.00" fill="none" stroke="#000" stroke-width="1"/>
<path d="M483 463 C484.17 463.08 487.67 463.67 490.00 463.50 C492.33 463.33 495.17 462.83 497.00 462.00 C498.83 461.17 500.33 459.08 501.00 458.50" fill="none" stroke="#000" stroke-width="1" stroke-dasharray="2.5 1"/>
<path d="M506 460 C507.33 460.13 511.50 460.25 514.00 460.80 C516.50 461.35 519.83 462.88 521.00 463.30" fill="none" stroke="#000" stroke-width="1" stroke-dasharray="2.5 1"/>
<path d="M520 448.5 C520.58 447.08 522.00 442.92 523.50 440.00 C525.00 437.08 526.92 433.67 529.00 431.00 C531.08 428.33 534.83 425.17 536.00 424.00" fill="none" stroke="#000" stroke-width="1"/>
<path d="M524 450 C524.50 448.67 525.67 444.67 527.00 442.00 C528.33 439.33 530.17 436.25 532.00 434.00 C533.83 431.75 537.00 429.42 538.00 428.50" fill="none" stroke="#000" stroke-width="1"/>
<path d="M535 427 C535.58 425.92 538.92 423.08 541.00 421.50 C543.08 419.92 545.75 418.28 547.50 417.50 C549.25 416.72 551.92 416.05 551.50 416.80 C551.08 417.55 547.33 420.13 545.00 422.00 C542.67 423.87 539.17 427.17 537.50 428.00 C535.83 428.83 534.42 428.08 535.00 427.00 Z" fill="none" stroke="#000" stroke-width="1"/>
<path d="M540 430 C540.67 428.83 544.83 425.67 547.00 424.00 C549.17 422.33 551.33 420.75 553.00 420.00 C554.67 419.25 557.42 418.67 557.00 419.50 C556.58 420.33 552.83 423.08 550.50 425.00 C548.17 426.92 544.75 430.17 543.00 431.00 C541.25 431.83 539.33 431.17 540.00 430.00 Z" fill="none" stroke="#000" stroke-width="1"/>
<path d="M529 444 C529.83 442.50 532.00 437.58 534.00 435.00 C536.00 432.42 539.83 429.58 541.00 428.50" fill="none" stroke="#000" stroke-width="1"/>
<path d="M551.6 421.7 L551.6 426.3 L558.9 426.3 L558.9 423.4 L563.4 423.4 L563.4 418.9 L570.2 418.9 L570.2 424 L575 422.3 L575 417.5 L579.5 416.5" fill="none" stroke="#000" stroke-width="1"/>
<path d="M546 425 L546 431.5" fill="none" stroke="#000" stroke-width="1"/>
<path d="M553 429.8 L552 426.3" fill="none" stroke="#000" stroke-width="1"/>
<path d="M564.5 426.2 L563.4 423.4" fill="none" stroke="#000" stroke-width="1"/>
<path d="M543 429 C544.67 428.08 549.17 425.25 553.00 423.50 C556.83 421.75 561.50 420.00 566.00 418.50 C570.50 417.00 576.00 415.42 580.00 414.50 C584.00 413.58 588.33 413.25 590.00 413.00" fill="none" stroke="#000" stroke-width="1"/>
<path d="M541 416.5 C543.50 415.58 550.17 412.50 556.00 411.00 C561.83 409.50 570.33 408.25 576.00 407.50 C581.67 406.75 587.67 406.67 590.00 406.50" fill="none" stroke="#000" stroke-width="1" stroke-dasharray="6 1.5"/>
<line x1="556" y1="414.5" x2="557.5" y2="418" stroke="#000" stroke-width="1"/>
<line x1="563" y1="412" x2="564.5" y2="415.5" stroke="#000" stroke-width="1"/>
<line x1="570" y1="410" x2="571.5" y2="413.5" stroke="#000" stroke-width="1"/>
<rect x="536.6" y="434.4" width="9" height="8" rx="3" fill="none" stroke="#000" stroke-width="1" transform="rotate(-28 541 438.4)"/>
<rect x="584.4" y="408.6" width="6.2" height="3.2" fill="#000"/>
<rect x="578.1" y="409.6" width="4.4" height="4.4" fill="#000"/>
<rect x="552.1" y="414.2" width="5.6" height="2.4" fill="#000" transform="rotate(-15 555 415.4)"/>
<rect x="581.5" y="402.3" width="5.5" height="1.6" fill="#000"/>
<ellipse cx="548.3" cy="435.2" rx="1.1" ry="1.1" fill="#000" stroke="#000" stroke-width="1"/>
<path d="M590 409 C591.00 409.25 594.17 409.67 596.00 410.50 C597.83 411.33 599.67 412.55 601.00 414.00 C602.33 415.45 603.50 418.33 604.00 419.20" fill="none" stroke="#000" stroke-width="1"/>
<path d="M583 412.5 C584.50 412.67 589.50 412.92 592.00 413.50 C594.50 414.08 597.00 415.58 598.00 416.00" fill="none" stroke="#000" stroke-width="1"/>
<path d="M579.5 416.5 C580.58 416.67 583.92 417.58 586.00 417.50 C588.08 417.42 591.00 416.25 592.00 416.00" fill="none" stroke="#000" stroke-width="1" stroke-dasharray="4 1.5"/>
<path d="M539 413.1 L540 417" fill="none" stroke="#000" stroke-width="1"/>
<path d="M539.5 413 L543 411" fill="none" stroke="#000" stroke-width="1"/>
<line x1="620" y1="470.6" x2="620" y2="465" stroke="#000" stroke-width="1"/>
<path d="M469.1 471.6 L473.1 471.3 L487.8 479.5" fill="none" stroke="#000" stroke-width="1"/>
<path d="M487.8 479.5 C488.93 478.65 492.33 475.58 494.60 474.40 C496.87 473.22 499.15 472.48 501.40 472.40 C503.65 472.32 506.03 473.18 508.10 473.90 C510.17 474.62 511.72 475.85 513.80 476.70 C515.88 477.55 519.47 478.62 520.60 479.00" fill="none" stroke="#000" stroke-width="1"/>
<path d="M520.6 479 C520.22 481.07 519.25 487.07 518.30 491.40 C517.35 495.73 516.03 500.48 514.90 505.00 C513.77 509.52 512.35 515.33 511.50 518.50 C510.65 521.67 510.08 523.08 509.80 524.00" fill="none" stroke="#000" stroke-width="1"/>
<path d="M518.5 479 C518.08 481.00 517.00 486.67 516.00 491.00 C515.00 495.33 513.62 500.50 512.50 505.00 C511.38 509.50 509.83 515.83 509.30 518.00" fill="none" stroke="#000" stroke-width="1" stroke-dasharray="4 1.5"/>
<path d="M469.1 471.6 L469.7 479 L471.4 484.6 L470.3 490.3 L469.7 499.3 L468.6 507.2 L468.6 512.9 L476.5 518 L487.8 517.4 L488.9 520.2 L496.8 521.9 L499.1 524 L509.8 524" fill="none" stroke="#000" stroke-width="1"/>
<path d="M470.3 490.3 L469.7 499.3 L468.6 507.2" fill="none" stroke="#000" stroke-width="2"/>
<path d="M476 479.5 C477.00 479.78 480.03 480.78 482.00 481.20 C483.97 481.62 485.52 482.72 487.80 482.00 C490.08 481.28 493.25 478.07 495.70 476.90 C498.15 475.73 499.87 474.85 502.50 475.00 C505.13 475.15 508.78 476.88 511.50 477.80 C514.22 478.72 517.58 480.05 518.80 480.50" fill="none" stroke="#000" stroke-width="1"/>
<path d="M478 482.5 C479.63 482.82 484.85 484.92 487.80 484.40 C490.75 483.88 493.25 480.55 495.70 479.40 C498.15 478.25 499.87 477.35 502.50 477.50 C505.13 477.65 509.08 479.47 511.50 480.30 C513.92 481.13 516.08 482.13 517.00 482.50" fill="none" stroke="#000" stroke-width="1" stroke-dasharray="5 1.5"/>
<path d="M480 485.2 C481.30 485.47 485.18 487.35 487.80 486.80 C490.42 486.25 493.25 483.03 495.70 481.90 C498.15 480.77 499.87 479.85 502.50 480.00 C505.13 480.15 509.25 482.03 511.50 482.80 C513.75 483.57 515.25 484.30 516.00 484.60" fill="none" stroke="#000" stroke-width="1" stroke-dasharray="5 1.5"/>
<path d="M482 488 C483.00 488.20 485.72 489.80 488.00 489.20 C490.28 488.60 493.28 485.52 495.70 484.40 C498.12 483.28 500.28 482.48 502.50 482.50 C504.72 482.52 507.92 484.17 509.00 484.50" fill="none" stroke="#000" stroke-width="1" stroke-dasharray="4 2"/>
<path d="M473.1 471.3 L474.5 478.5 L469.7 479" fill="none" stroke="#000" stroke-width="1"/>
<path d="M474.5 478.5 L487.8 479.5" fill="none" stroke="#000" stroke-width="1"/>
<path d="M476 472.8 L476.8 477.5" fill="none" stroke="#000" stroke-width="1"/>
<path d="M471.4 485.7 L482.1 490.3 L494.6 492 L503.6 485.7" fill="none" stroke="#000" stroke-width="1"/>
<line x1="482.1" y1="490.3" x2="482.1" y2="511.8" stroke="#000" stroke-width="1"/>
<path d="M471.8 487 L482.1 507.2" fill="none" stroke="#000" stroke-width="1"/>
<path d="M474.5 487 L484 509" fill="none" stroke="#000" stroke-width="1" stroke-dasharray="3 1.5"/>
<line x1="499.7" y1="489" x2="499.7" y2="500.4" stroke="#000" stroke-width="1" stroke-dasharray="3 1.5"/>
<line x1="503.6" y1="486" x2="503.6" y2="508.4" stroke="#000" stroke-width="1" stroke-dasharray="5 2"/>
<path d="M503.6 508.4 L507.5 508.8 L508.5 502" fill="none" stroke="#000" stroke-width="1"/>
<path d="M490.5 506 L492 504.5 L507 511.5 L506.5 514.5" fill="none" stroke="#000" stroke-width="1"/>
<path d="M490.5 506 L489.8 515.5 L497 519 L507.5 519.8" fill="none" stroke="#000" stroke-width="1"/>
<path d="M492.5 508 L505 513.5" fill="none" stroke="#000" stroke-width="1" stroke-dasharray="1.5 1"/>
<path d="M469.5 512 L476 510 L482.1 511" fill="none" stroke="#000" stroke-width="1" stroke-dasharray="3 1.5"/>
<path d="M476 510 L478 516" fill="none" stroke="#000" stroke-width="1"/>
<path d="M472 514 L479 511.5" fill="none" stroke="#000" stroke-width="1"/>
</svg>
</body></html>
